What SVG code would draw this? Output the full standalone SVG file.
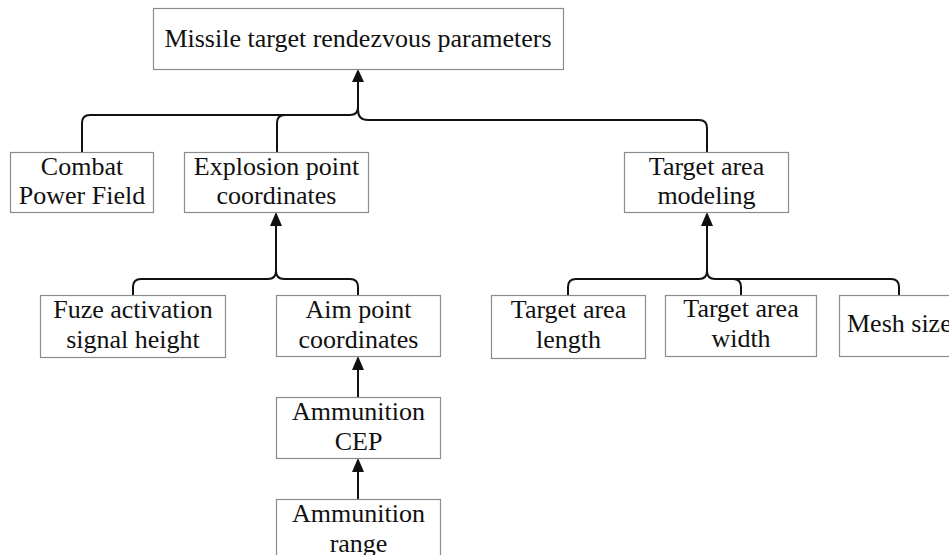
<svg xmlns="http://www.w3.org/2000/svg" width="949" height="555" viewBox="0 0 949 555">
  <style>
    .box { fill: #ffffff; stroke: #8c8c8c; stroke-width: 1.2; }
    .lbl { font-family: "Liberation Serif", "Times New Roman", serif; font-size: 26px; fill: #111111; text-anchor: middle; }
    .lbl.start { text-anchor: start; }
    .wire { fill: none; stroke: #111111; stroke-width: 2; }
    .arrow { fill: none; stroke: #111111; stroke-width: 2; marker-end: url(#head); }
  </style>
  <defs>
    <marker id="head" viewBox="0 0 12 14" refX="6" refY="1" markerWidth="12" markerHeight="14" markerUnits="userSpaceOnUse" orient="auto-start-reverse">
      <path d="M0,14 L6,0 L12,14 Z" fill="#111111"/>
    </marker>
  </defs>
  <rect width="949" height="555" fill="#ffffff"/>

  <!-- connectors -->
  <g id="connectors">
    <!-- level 1 into the root -->
    <path class="wire" d="M358,82 V107 Q358,115 350,115 H90 Q82,115 82,123 V152"/>
    <path class="wire" d="M358,110 Q358,120 368,120 H699 Q707,120 707,128 V152"/>
    <path class="wire" d="M277,152 V123 Q277,115 285,115"/>
    <line x1="358" y1="110" x2="358" y2="82" class="wire"/>
    <path d="M352,82 L358,69 L364,82 Z" fill="#111111"/>

    <!-- explosion point subtree -->
    <path class="wire" d="M276,225 V271 Q276,279 268,279 H141 Q133,279 133,287 V295"/>
    <path class="wire" d="M276,271 Q276,279 284,279 H350 Q358,279 358,287 V295"/>
    <path d="M270,226 L276,212 L282,226 Z" fill="#111111"/>

    <!-- aim point chain -->
    <line x1="358" y1="397" x2="358" y2="369" class="wire"/>
    <path d="M352,370 L358,356 L364,370 Z" fill="#111111"/>
    <line x1="358" y1="499" x2="358" y2="471" class="wire"/>
    <path d="M352,472 L358,458 L364,472 Z" fill="#111111"/>

    <!-- target area subtree -->
    <path class="wire" d="M707,225 V271 Q707,279 699,279 H576 Q568,279 568,287 V295"/>
    <path class="wire" d="M707,271 Q707,279 715,279 H891 Q899,279 899,287 V295"/>
    <path class="wire" d="M733,279 Q741,279 741,287 V295"/>
    <path d="M701,226 L707,212 L713,226 Z" fill="#111111"/>
  </g>

  <g id="root">
    <rect class="box" x="153.5" y="8.5" width="410" height="61"/>
    <text class="lbl" x="358" y="47">Missile target rendezvous parameters</text>
  </g>

  <g id="combat-power-field">
    <rect class="box" x="10.5" y="152.5" width="143" height="60"/>
    <text class="lbl" x="82" y="175">Combat</text>
    <text class="lbl" x="82" y="204">Power Field</text>
  </g>

  <g id="explosion-point">
    <rect class="box" x="184.5" y="152.5" width="184" height="60"/>
    <text class="lbl" x="276.5" y="175">Explosion point</text>
    <text class="lbl" x="276.5" y="204">coordinates</text>
  </g>

  <g id="target-area-modeling">
    <rect class="box" x="624.5" y="152.5" width="164" height="60"/>
    <text class="lbl" x="706.5" y="175">Target area</text>
    <text class="lbl" x="706.5" y="204">modeling</text>
  </g>

  <g id="fuze-height">
    <rect class="box" x="40.5" y="295.5" width="185" height="62"/>
    <text class="lbl" x="133" y="318">Fuze activation</text>
    <text class="lbl" x="133" y="348">signal height</text>
  </g>

  <g id="aim-point">
    <rect class="box" x="276.5" y="295.5" width="164" height="61"/>
    <text class="lbl" x="358.5" y="318">Aim point</text>
    <text class="lbl" x="358.5" y="348">coordinates</text>
  </g>

  <g id="ammunition-cep">
    <rect class="box" x="276.5" y="397.5" width="164" height="61"/>
    <text class="lbl" x="358.5" y="420">Ammunition</text>
    <text class="lbl" x="358.5" y="450">CEP</text>
  </g>

  <g id="ammunition-range">
    <rect class="box" x="276.5" y="499.5" width="164" height="70"/>
    <text class="lbl" x="358.5" y="522">Ammunition</text>
    <text class="lbl" x="358.5" y="552">range</text>
  </g>

  <g id="target-area-length">
    <rect class="box" x="491.5" y="295.5" width="154" height="63"/>
    <text class="lbl" x="568.5" y="318">Target area</text>
    <text class="lbl" x="568.5" y="348">length</text>
  </g>

  <g id="target-area-width">
    <rect class="box" x="665.5" y="295.5" width="151" height="61"/>
    <text class="lbl" x="741" y="317">Target area</text>
    <text class="lbl" x="741" y="347">width</text>
  </g>

  <g id="mesh-size">
    <rect class="box" x="839.5" y="295.5" width="130" height="61"/>
    <text class="lbl start" x="847" y="332">Mesh size</text>
  </g>
</svg>
